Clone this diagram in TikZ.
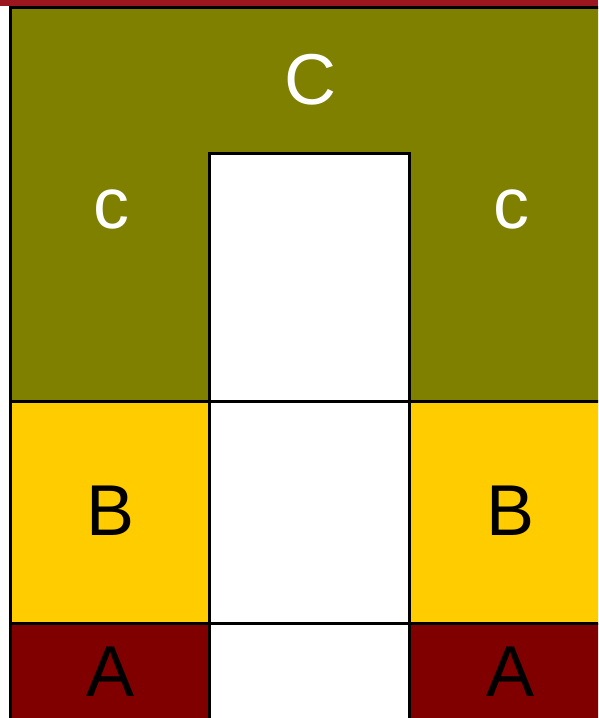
\documentclass[tikz,border=0pt]{standalone}
\usepackage{fontspec}
\setmainfont{Liberation Sans}
\definecolor{olivec}{HTML}{808000}
\definecolor{yelc}{HTML}{FFCC00}
\definecolor{redc}{HTML}{800000}
\definecolor{stripc}{HTML}{9B161E}
\begin{document}
\begin{tikzpicture}[x=1pt,y=-1pt,
  edge/.style={line width=3pt,black},
  lab/.style={inner sep=0pt,font=\fontsize{72}{80}\selectfont},
  wlab/.style={lab,text=white},
  blab/.style={lab,text=black}]
\useasboundingbox (0,0) rectangle (598,718);
\begin{scope}
\clip (0,0) rectangle (598,718);
\fill[stripc] (0,0) rectangle (598,6);
\fill[olivec] (10.5,7.5) rectangle (610,401);
\fill[yelc] (10.5,401) rectangle (610,623);
\fill[redc] (10.5,623) rectangle (610,730);
\fill[white] (209.5,153) rectangle (409.5,730);
\draw[edge] (9,7.5) -- (610,7.5);
\draw[edge] (10.5,6) -- (10.5,730);
\draw[edge] (10.5,401) -- (610,401);
\draw[edge] (10.5,623) -- (610,623);
\draw[edge] (209.5,730) -- (209.5,153) -- (409.5,153) -- (409.5,730);
\end{scope}
\node[wlab] (C) at (310,80) {C};
\node[wlab] (cl) at (111,209) {c};
\node[wlab] (cr) at (511,209) {c};
\node[blab] (Bl) at (111,511) {B};
\node[blab] (Br) at (511,511) {B};
\node[blab] (Al) at (111,672) {A};
\node[blab] (Ar) at (511,672) {A};
\end{tikzpicture}
\end{document}
